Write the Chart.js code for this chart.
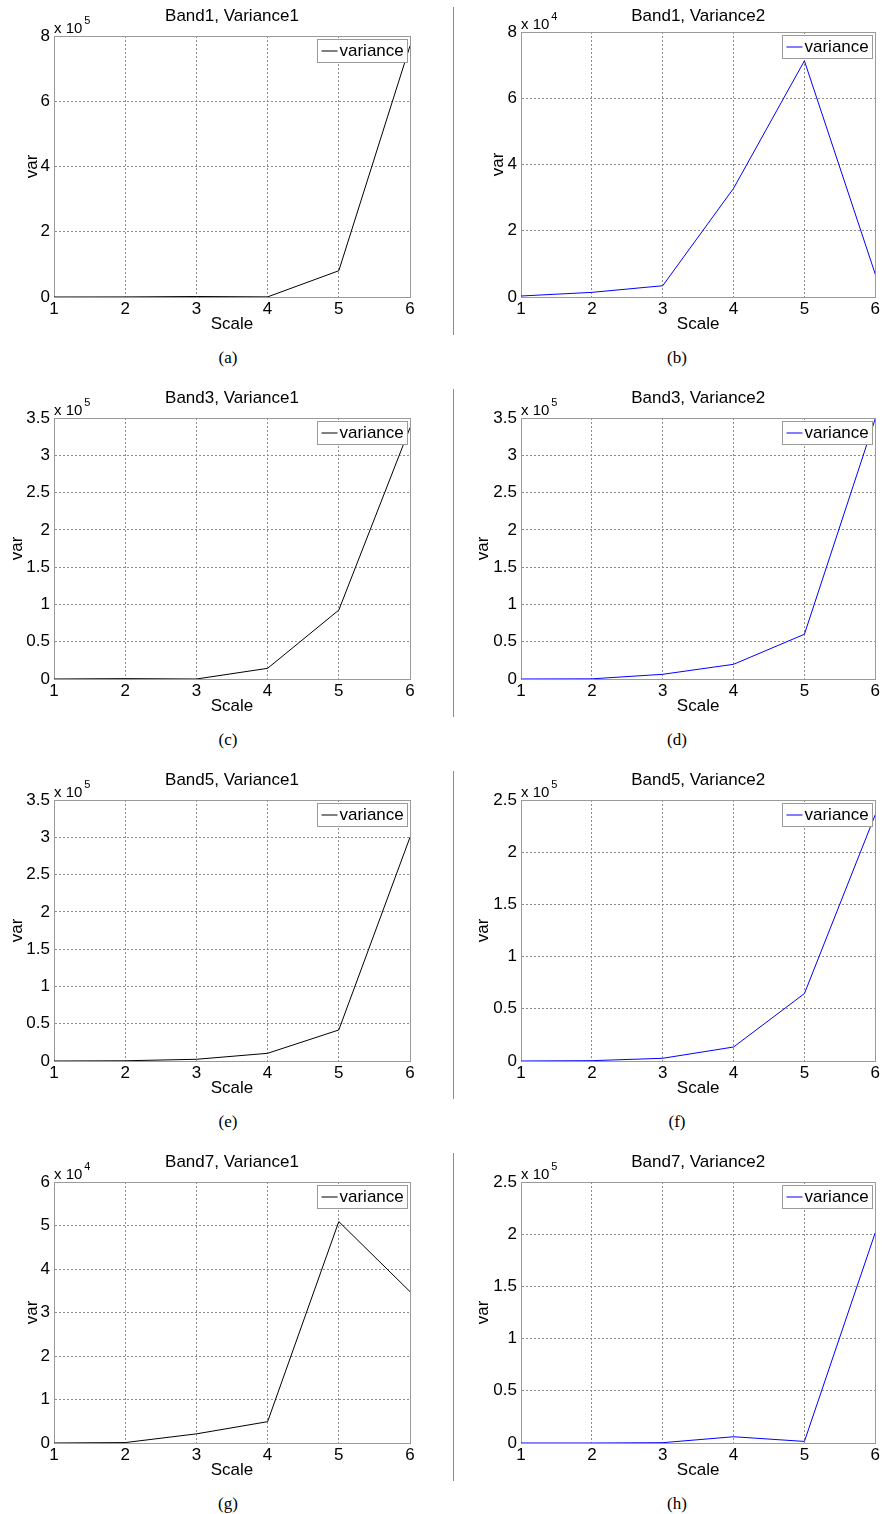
<!DOCTYPE html>
<html><head><meta charset="utf-8">
<script src="https://cdn.jsdelivr.net/npm/chart.js@4.4.1/dist/chart.umd.min.js"></script>
<style>
html,body{margin:0;padding:0;background:#fff;width:882px;height:1514px;overflow:hidden;}
canvas{position:absolute;}
.cap{position:absolute;font-family:"Liberation Serif","Times New Roman",serif;font-size:17px;color:#000;transform:translate(-50%,-50%);white-space:nowrap;}
.sep{position:absolute;left:453px;width:1px;background:#8a8a8a;}
</style></head><body>
<script>
// ---- data ----
const scaleValues = [1, 2, 3, 4, 5, 6];
const band1Var1 = [0, 200, 1500, 300, 80500, 770000];
const band1Var2 = [300, 1400, 3400, 32800, 71300, 6900];
const band3Var1 = [0, 500, 0, 14300, 92400, 337000];
const band3Var2 = [0, 200, 6300, 19700, 60000, 349000];
const band5Var1 = [0, 300, 2300, 10300, 41600, 300000];
const band5Var2 = [0, 300, 2600, 13400, 64600, 236000];
const band7Var1 = [0, 100, 2100, 4900, 50900, 34800];
const band7Var2 = [0, 0, 300, 6000, 1500, 201500];

const panelTitles = ['Band1, Variance1', 'Band1, Variance2', 'Band3, Variance1', 'Band3, Variance2',
                     'Band5, Variance1', 'Band5, Variance2', 'Band7, Variance1', 'Band7, Variance2'];
const panelSeries = [band1Var1, band1Var2, band3Var1, band3Var2, band5Var1, band5Var2, band7Var1, band7Var2];
const yAxisMax = [8e5, 8e4, 3.5e5, 3.5e5, 3.5e5, 2.5e5, 6e4, 2.5e5];
const yAxisStep = [2e5, 2e4, 0.5e5, 0.5e5, 0.5e5, 0.5e5, 1e4, 0.5e5];
const yExponent = [5, 4, 5, 5, 5, 5, 4, 5];
const captions = ['(a)', '(b)', '(c)', '(d)', '(e)', '(f)', '(g)', '(h)'];
const seriesLabel = 'variance';
const xTitle = 'Scale';
const yTitle = 'var';

// ---- layout / style ----
Chart.defaults.font.family = '"Liberation Sans", Arial, Helvetica, sans-serif';
Chart.defaults.font.size = 17;
Chart.defaults.color = '#000';
const ROW_H = 382;
const GRID = '#8c8c8c';
const FRAME = '#9a9a9a';

const framePlugin = {
  id: 'frame',
  beforeDatasetsDraw(chart) {
    const {ctx, chartArea: a} = chart;
    ctx.save();
    ctx.strokeStyle = FRAME; ctx.lineWidth = 1;
    ctx.strokeRect(Math.round(a.left) + 0.5, Math.round(a.top) + 0.5,
                   Math.round(a.right) - Math.round(a.left), Math.round(a.bottom) - Math.round(a.top));
    ctx.restore();
  }
};
const exponentPlugin = {
  id: 'exponent',
  afterDraw(chart, args, opts) {
    const {ctx, chartArea: a} = chart;
    ctx.save();
    ctx.fillStyle = '#000';
    ctx.textBaseline = 'alphabetic'; ctx.textAlign = 'left';
    ctx.font = '15px "Liberation Sans", Arial, sans-serif';
    const base = 'x 10';
    ctx.fillText(base, a.left, a.top - 3.5);
    const w = ctx.measureText(base).width;
    ctx.font = '11px "Liberation Sans", Arial, sans-serif';
    ctx.fillText(String(opts.exp), a.left + w + 2, a.top - 12.5);
    ctx.restore();
  }
};
const boxLegendPlugin = {
  id: 'boxLegend',
  afterDatasetsDraw(chart) {
    const {ctx, chartArea: a} = chart;
    const ds = chart.data.datasets[0];
    const bw = 90, bh = 23;
    const x = Math.round(a.right - 3 - bw) + 0.5, y = Math.round(a.top + 3) + 0.5;
    ctx.save();
    ctx.fillStyle = '#fff';
    ctx.fillRect(x, y, bw, bh);
    ctx.strokeStyle = FRAME; ctx.lineWidth = 1;
    ctx.strokeRect(x, y, bw, bh);
    ctx.strokeStyle = ds.borderColor;
    ctx.beginPath(); ctx.moveTo(x + 4, y + bh / 2); ctx.lineTo(x + 20, y + bh / 2); ctx.stroke();
    ctx.fillStyle = '#000';
    ctx.font = '17px "Liberation Sans", Arial, sans-serif';
    ctx.textBaseline = 'middle'; ctx.textAlign = 'left';
    ctx.fillText(ds.label, x + 22, y + bh / 2 + 0.5);
    ctx.restore();
  }
};

for (let i = 0; i < panelSeries.length; i++) {
  const col = i % 2, row = Math.floor(i / 2);
  const rowTop = row * ROW_H;
  const cv = document.createElement('canvas');
  const canvasLeft = col === 0 ? 0 : 455;
  const canvasW = col === 0 ? 420 : 427;
  const canvasH = 345;
  const axisW = col === 0 ? 54 : 66;           // y-axis box width -> plot left edge
  const padRight = col === 0 ? 10 : 6;
  const plotTop = i === 1 ? 32 : 36;
  const wideLabels = yAxisMax[i] < 10 * yExponent[i] || String(yAxisStep[i] / Math.pow(10, yExponent[i])).includes('.');
  const varCenter = col === 0 ? (wideLabels ? 17 : 32) : (wideLabels ? 28 : 43);
  cv.width = canvasW; cv.height = canvasH;
  cv.style.left = canvasLeft + 'px'; cv.style.top = rowTop + 'px';
  cv.style.width = canvasW + 'px'; cv.style.height = canvasH + 'px';
  document.body.appendChild(cv);

  const color = col === 0 ? '#000000' : '#0000ff';
  const factor = Math.pow(10, yExponent[i]);
  new Chart(cv.getContext('2d'), {
    type: 'line',
    data: {
      datasets: [{
        label: seriesLabel,
        data: scaleValues.map((s, k) => ({x: s, y: panelSeries[i][k]})),
        borderColor: color, borderWidth: 1, pointRadius: 0, tension: 0, fill: false
      }]
    },
    options: {
      responsive: false, animation: false, devicePixelRatio: 1,
      layout: {padding: {left: 0, top: 0, right: padRight, bottom: canvasH - 337}},
      plugins: {
        legend: {display: false}, tooltip: {enabled: false},
        title: {display: true, text: panelTitles[i], fullSize: false,
                font: {size: 17, weight: 'normal'}, color: '#000',
                padding: {top: 6.5, bottom: plotTop - 6.5 - 20.4}},
        exponent: {exp: yExponent[i]}
      },
      scales: {
        x: {
          type: 'linear', min: 1, max: 6,
          ticks: {stepSize: 1, padding: 2, color: '#000', font: {size: 17}, maxRotation: 0, autoSkip: false,
                  callback: v => String(v)},
          grid: {color: GRID, drawTicks: false, lineWidth: 1},
          border: {display: true, color: FRAME, dash: [2, 2]},
          title: {display: true, text: xTitle, color: '#000', font: {size: 17}, padding: {top: 0, bottom: 2}},
          afterFit: s => { s.height = 40; }
        },
        y: {
          type: 'linear', min: 0, max: yAxisMax[i],
          ticks: {stepSize: yAxisStep[i], padding: 4, color: '#000', font: {size: 17},
                  callback: v => String(Math.round(v / factor * 100) / 100)},
          grid: {color: GRID, drawTicks: false, lineWidth: 1},
          border: {display: true, color: FRAME, dash: [2, 2]},
          title: {display: true, text: yTitle, color: '#000', font: {size: 17}, padding: {top: varCenter - 10.2, bottom: 0}},
          afterFit: s => { s.width = axisW; }
        }
      }
    },
    plugins: [framePlugin, exponentPlugin, boxLegendPlugin]
  });

  const cap = document.createElement('div');
  cap.className = 'cap';
  cap.textContent = captions[i];
  cap.style.left = (col === 0 ? 228 : 677) + 'px';
  cap.style.top = (rowTop + 357.5) + 'px';
  document.body.appendChild(cap);

  if (col === 1) {
    const sep = document.createElement('div');
    sep.className = 'sep';
    sep.style.top = (rowTop + 7) + 'px';
    sep.style.height = '328px';
    document.body.appendChild(sep);
  }
}
</script>
</body></html>
